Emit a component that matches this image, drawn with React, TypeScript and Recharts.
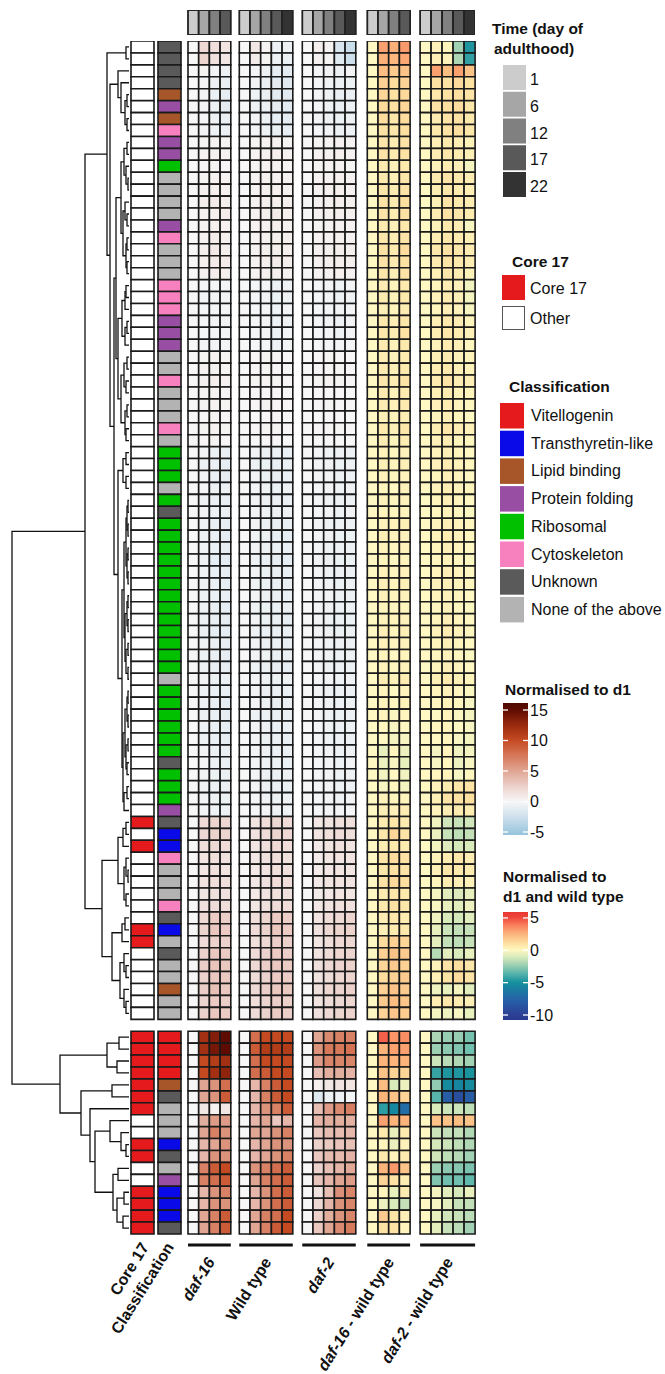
import React from "react";
import { BarChart, Bar, Cell, XAxis, YAxis, ScatterChart, Scatter } from "recharts";

const FONT = '"Liberation Sans", Arial, Helvetica, sans-serif';

// ---------- data ----------
const timeDays = [1, 6, 12, 17, 22];
const panelNames = ["daf-16", "Wild type", "daf-2", "daf-16 - wild type", "daf-2 - wild type"];
const panelDays = [
  [1, 6, 12, 17],
  [1, 6, 12, 17, 22],
  [1, 6, 12, 17, 22],
  [1, 6, 12, 17],
  [1, 6, 12, 17, 22],
];

const classNames: Record<string, string> = {
  V: "Vitellogenin",
  T: "Transthyretin-like",
  L: "Lipid binding",
  P: "Protein folding",
  R: "Ribosomal",
  C: "Cytoskeleton",
  U: "Unknown",
  N: "None of the above",
};
const classOrder = ["V", "T", "L", "P", "R", "C", "U", "N"];

// 1 = Core 17, 0 = other (rows 1-99, top to bottom)
const core17 = [
  0, 0, 0, 0, 0, 0, 0, 0, 0, 0,
  0, 0, 0, 0, 0, 0, 0, 0, 0, 0,
  0, 0, 0, 0, 0, 0, 0, 0, 0, 0,
  0, 0, 0, 0, 0, 0, 0, 0, 0, 0,
  0, 0, 0, 0, 0, 0, 0, 0, 0, 0,
  0, 0, 0, 0, 0, 0, 0, 0, 0, 0,
  0, 0, 0, 0, 0, 1, 0, 1, 0, 0,
  0, 0, 0, 0, 1, 1, 0, 0, 0, 0,
  0, 0, 1, 1, 1, 1, 1, 1, 1, 0,
  0, 1, 1, 0, 0, 1, 1, 1, 1,
];

const classification = [
  "U", "U", "U", "U", "L", "P", "L", "C", "P", "P",
  "R", "N", "N", "N", "N", "P", "C", "N", "N", "N",
  "C", "C", "C", "P", "P", "P", "N", "N", "C", "N",
  "N", "N", "C", "N", "R", "R", "R", "N", "R", "U",
  "R", "R", "R", "R", "R", "R", "R", "R", "R", "R",
  "R", "R", "R", "N", "R", "R", "R", "R", "R", "R",
  "U", "R", "R", "R", "P", "U", "T", "T", "C", "N",
  "N", "N", "C", "U", "T", "N", "U", "N", "N", "L",
  "N", "N", "V", "V", "V", "V", "L", "U", "N", "N",
  "N", "T", "U", "N", "P", "T", "T", "T", "U",
];

// normalised to d1 (days 1, 6, 12, 17)
const daf16Values = [
  [0, 2.0, 1.6, 1.2], [0, 2.2, 1.4, 1.0], [0, 0.2, -0.3, -0.6], [0, -0.2, -0.6, -0.9],
  [0, -0.3, -0.8, -1.0], [0, -0.4, -0.7, -1.1], [0, -0.2, -0.6, -0.9], [0, -0.3, -0.5, -0.8],
  [0, 0.2, 0.3, 0.2], [0, 0.3, 0.4, 0.3], [0, 0.1, 0.2, 0.1], [0, 0.2, 0.4, 0.3],
  [0, 0.3, 0.5, 0.4], [0, 0.5, 0.8, 0.6], [0, 0.4, 0.6, 0.7], [0, 0.3, 0.5, 0.4],
  [0, 0.4, 0.7, 0.5], [0, 0.5, 0.9, 0.6], [0, 0.5, 0.8, 0.7], [0, 0.4, 0.7, 0.5],
  [0, -0.1, -0.2, -0.3], [0, -0.2, -0.3, -0.4], [0, -0.1, -0.2, -0.2], [0, -0.2, -0.3, -0.4],
  [0, -0.1, -0.2, -0.3], [0, -0.2, -0.3, -0.3], [0, 0.2, 0.3, 0.2], [0, 0.3, 0.4, 0.2],
  [0, 0.3, 0.5, 0.3], [0, 0.2, 0.3, 0.1], [0, 0.2, 0.3, 0.2], [0, 0.1, 0.2, 0.1],
  [0, 0.2, 0.4, 0.2], [0, 0.1, 0.2, 0.1], [0, -0.4, -0.7, -0.9], [0, -0.5, -0.8, -1.0],
  [0, -0.4, -0.8, -1.0], [0, -0.3, -0.6, -0.7], [0, -0.5, -0.8, -0.9], [0, -0.4, -0.6, -0.8],
  [0, -0.5, -0.9, -1.0], [0, -0.6, -0.9, -1.1], [0, -0.5, -0.8, -1.0], [0, -0.6, -1.0, -1.1],
  [0, -0.5, -0.9, -1.0], [0, -0.6, -0.9, -1.0], [0, -0.5, -0.8, -0.9], [0, -0.6, -0.9, -1.0],
  [0, -0.5, -0.9, -1.1], [0, -0.6, -1.0, -1.0], [0, -0.5, -0.8, -0.9], [0, -0.5, -0.9, -1.0],
  [0, -0.6, -0.9, -1.1], [0, -0.4, -0.7, -0.8], [0, -0.5, -0.8, -0.9], [0, -0.5, -0.9, -1.0],
  [0, -0.6, -0.9, -1.0], [0, -0.5, -0.8, -1.0], [0, -0.5, -0.9, -1.0], [0, -0.4, -0.7, -0.9],
  [0, -0.3, -0.6, -0.8], [0, -0.4, -0.7, -0.8], [0, -0.4, -0.6, -0.8], [0, -0.3, -0.6, -0.7],
  [0, -0.3, -0.5, -0.5], [0, 1.8, 2.2, 2.0], [0, 2.0, 2.4, 2.2], [0, 1.6, 2.0, 1.8],
  [0, 1.2, 1.6, 1.4], [0, 1.0, 1.4, 1.2], [0, 1.3, 1.6, 1.5], [0, 1.1, 1.5, 1.4],
  [0, 1.4, 1.8, 1.6], [0, 2.0, 2.8, 2.6], [0, 2.2, 3.0, 2.8], [0, 1.8, 2.4, 2.4],
  [0, 2.4, 3.0, 2.8], [0, 2.6, 3.2, 3.0], [0, 2.4, 3.0, 3.0], [0, 2.6, 3.4, 3.0],
  [0, 2.2, 2.8, 2.6], [0, 2.4, 3.0, 2.8],
  [0, 12, 13.5, 15], [0, 12, 14, 15], [0, 10, 11, 12], [0, 10, 12, 13],
  [0, 5, 6, 8], [0, 5, 6, 9], [0, 1, 0.4, 1], [0, 4.5, 5.5, 5.5],
  [0, 5, 7, 6], [0, 4, 5, 6], [0, 4, 6, 6], [0, 7, 9, 10],
  [0, 7, 8, 9], [0, 4, 6, 7], [0, 4, 6, 6], [0, 5, 7, 9], [0, 5, 7, 9],
];

// normalised to d1 (days 1, 6, 12, 17, 22)
const wildTypeValues = [
  [0, 1.0, 0.3, -0.5, -0.6], [0, 0.8, 0.2, -0.6, -0.8], [0, -0.3, -0.6, -1.0, -1.2], [0, -0.4, -0.8, -1.2, -1.4],
  [0, -0.5, -0.9, -1.3, -1.4], [0, -0.5, -0.8, -1.2, -1.3], [0, -0.4, -0.7, -1.0, -1.2], [0, -0.3, -0.6, -0.9, -1.0],
  [0, 0.2, 0.3, 0.3, 0.2], [0, 0.3, 0.4, 0.5, 0.3], [0, 0.2, 0.3, 0.3, 0.2], [0, 0.3, 0.5, 0.4, 0.3],
  [0, 0.3, 0.5, 0.5, 0.4], [0, 0.4, 0.6, 0.6, 0.5], [0, 0.4, 0.6, 0.7, 0.5], [0, 0.3, 0.4, 0.5, 0.4],
  [0, 0.3, 0.5, 0.6, 0.5], [0, 0.4, 0.6, 0.6, 0.5], [0, 0.4, 0.6, 0.7, 0.6], [0, 0.3, 0.5, 0.5, 0.4],
  [0, -0.2, -0.3, -0.6, -0.5], [0, -0.2, -0.4, -0.7, -0.5], [0, -0.1, -0.3, -0.5, -0.4], [0, -0.2, -0.4, -0.6, -0.5],
  [0, -0.2, -0.3, -0.6, -0.4], [0, -0.1, -0.3, -0.5, -0.4], [0, 0.1, 0.2, 0.2, 0.1], [0, 0.1, 0.2, 0.1, 0.1],
  [0, 0.2, 0.3, 0.2, 0.1], [0, 0.1, 0.1, 0.1, 0.0], [0, 0.1, 0.2, 0.1, 0.1], [0, 0.0, 0.1, 0.1, 0.0],
  [0, 0.1, 0.2, 0.2, 0.1], [0, 0.0, 0.1, 0.1, 0.0], [0, -0.4, -0.6, -0.8, -0.8], [0, -0.5, -0.7, -0.9, -0.9],
  [0, -0.4, -0.7, -0.9, -0.8], [0, -0.3, -0.5, -0.7, -0.6], [0, -0.4, -0.6, -0.8, -0.8], [0, -0.3, -0.5, -0.6, -0.6],
  [0, -0.4, -0.7, -0.9, -0.9], [0, -0.5, -0.7, -0.9, -1.0], [0, -0.4, -0.6, -0.8, -0.9], [0, -0.5, -0.8, -1.0, -1.0],
  [0, -0.4, -0.7, -0.9, -0.9], [0, -0.5, -0.7, -0.9, -0.9], [0, -0.4, -0.6, -0.8, -0.8], [0, -0.5, -0.7, -0.9, -0.9],
  [0, -0.4, -0.7, -0.9, -1.0], [0, -0.5, -0.8, -0.9, -0.9], [0, -0.4, -0.6, -0.8, -0.8], [0, -0.4, -0.7, -0.9, -0.9],
  [0, -0.5, -0.7, -1.0, -1.0], [0, -0.3, -0.5, -0.7, -0.7], [0, -0.4, -0.6, -0.8, -0.8], [0, -0.4, -0.7, -0.9, -0.9],
  [0, -0.5, -0.7, -0.9, -0.9], [0, -0.4, -0.6, -0.9, -0.9], [0, -0.4, -0.7, -0.9, -0.9], [0, -0.3, -0.6, -0.8, -0.8],
  [0, -0.3, -0.5, -0.7, -0.7], [0, -0.3, -0.6, -0.7, -0.7], [0, -0.4, -0.6, -0.8, -0.7], [0, -0.3, -0.5, -0.7, -0.6],
  [0, -0.2, -0.4, -0.5, -0.5], [0, 1.2, 1.6, 2.0, 1.8], [0, 1.4, 1.8, 2.2, 2.0], [0, 1.2, 1.6, 1.9, 1.7],
  [0, 1.0, 1.4, 1.6, 1.5], [0, 0.9, 1.2, 1.5, 1.4], [0, 1.0, 1.4, 1.7, 1.6], [0, 0.9, 1.3, 1.5, 1.4],
  [0, 1.1, 1.5, 1.8, 1.7], [0, 1.6, 2.2, 2.8, 2.6], [0, 1.8, 2.4, 3.0, 2.8], [0, 1.5, 2.0, 2.6, 2.5],
  [0, 1.8, 2.4, 2.8, 2.6], [0, 2.0, 2.6, 3.0, 2.8], [0, 1.8, 2.4, 2.8, 2.7], [0, 2.0, 2.6, 3.0, 2.9],
  [0, 1.6, 2.2, 2.6, 2.5], [0, 1.8, 2.4, 2.8, 2.6],
  [0, 8, 10, 10, 10], [0, 9, 11, 11, 11], [0, 8, 10, 10, 10], [0, 8, 9, 10, 10],
  [0, 4, 7, 9, 10], [0, 4, 7, 9, 10], [0, 4, 6, 7, 9], [0, 4, 5, 3, 4],
  [0, 5, 5, 6, 7], [0, 4, 5, 6, 6], [0, 4, 5, 6, 7], [0, 6, 7, 8, 9],
  [0, 5, 7, 8, 9], [0, 4, 6, 8, 9], [0, 4, 6, 8, 9], [0, 5, 7, 8, 10], [0, 5, 7, 9, 10],
];

const daf2Values = [
  [0, 0.6, 0.3, -1.8, -2.8], [0, 0.4, 0.2, -1.5, -2.6], [0, -0.2, -0.4, -0.6, -0.4], [0, -0.3, -0.5, -0.8, -0.7],
  [0, -0.3, -0.6, -0.9, -0.8], [0, -0.2, -0.5, -0.8, -0.7], [0, -0.3, -0.5, -0.7, -0.6], [0, -0.2, -0.4, -0.6, -0.5],
  [0, 0.2, 0.3, 0.4, 0.3], [0, 0.3, 0.4, 0.5, 0.4], [0, 0.2, 0.3, 0.3, 0.2], [0, 0.3, 0.4, 0.5, 0.4],
  [0, 0.3, 0.5, 0.5, 0.4], [0, 0.4, 0.5, 0.6, 0.5], [0, 0.4, 0.5, 0.6, 0.5], [0, 0.2, 0.3, 0.4, 0.3],
  [0, 0.3, 0.4, 0.5, 0.4], [0, 0.4, 0.5, 0.6, 0.5], [0, 0.4, 0.5, 0.6, 0.5], [0, 0.3, 0.4, 0.5, 0.4],
  [0, -0.2, -0.3, -0.5, -0.4], [0, -0.2, -0.4, -0.6, -0.5], [0, -0.1, -0.3, -0.4, -0.3], [0, -0.2, -0.3, -0.5, -0.4],
  [0, -0.2, -0.3, -0.5, -0.4], [0, -0.1, -0.2, -0.4, -0.3], [0, 0.1, 0.2, 0.1, 0.1], [0, 0.1, 0.2, 0.2, 0.1],
  [0, 0.2, 0.3, 0.2, 0.1], [0, 0.1, 0.1, 0.1, 0.0], [0, 0.1, 0.2, 0.1, 0.1], [0, 0.0, 0.1, 0.1, 0.0],
  [0, 0.1, 0.2, 0.2, 0.1], [0, 0.0, 0.1, 0.0, 0.0], [0, -0.3, -0.5, -0.6, -0.6], [0, -0.3, -0.5, -0.7, -0.6],
  [0, -0.3, -0.4, -0.6, -0.5], [0, -0.2, -0.4, -0.5, -0.5], [0, -0.3, -0.5, -0.6, -0.6], [0, -0.2, -0.3, -0.5, -0.4],
  [0, -0.3, -0.5, -0.6, -0.6], [0, -0.3, -0.6, -0.7, -0.7], [0, -0.3, -0.5, -0.6, -0.6], [0, -0.4, -0.6, -0.7, -0.7],
  [0, -0.3, -0.5, -0.6, -0.6], [0, -0.3, -0.5, -0.7, -0.6], [0, -0.3, -0.4, -0.6, -0.6], [0, -0.3, -0.5, -0.6, -0.6],
  [0, -0.3, -0.5, -0.7, -0.7], [0, -0.4, -0.6, -0.7, -0.6], [0, -0.3, -0.5, -0.6, -0.6], [0, -0.3, -0.5, -0.6, -0.6],
  [0, -0.3, -0.6, -0.7, -0.7], [0, -0.2, -0.4, -0.5, -0.5], [0, -0.3, -0.5, -0.6, -0.6], [0, -0.3, -0.5, -0.6, -0.6],
  [0, -0.3, -0.5, -0.7, -0.6], [0, -0.3, -0.5, -0.6, -0.6], [0, -0.3, -0.5, -0.6, -0.6], [0, -0.2, -0.4, -0.5, -0.5],
  [0, -0.2, -0.4, -0.5, -0.4], [0, -0.2, -0.4, -0.5, -0.5], [0, -0.3, -0.4, -0.5, -0.5], [0, -0.2, -0.4, -0.5, -0.4],
  [0, -0.2, -0.3, -0.3, -0.2], [0, 1.0, 1.3, 1.5, 1.5], [0, 1.2, 1.5, 1.7, 1.6], [0, 0.9, 1.2, 1.4, 1.3],
  [0, 0.8, 1.1, 1.2, 1.2], [0, 0.7, 1.0, 1.1, 1.1], [0, 0.9, 1.2, 1.3, 1.3], [0, 0.8, 1.0, 1.2, 1.1],
  [0, 1.0, 1.3, 1.4, 1.4], [0, 1.2, 1.8, 2.0, 2.2], [0, 1.4, 2.0, 2.2, 2.3], [0, 1.1, 1.6, 1.9, 2.0],
  [0, 1.3, 1.8, 2.1, 2.2], [0, 1.5, 2.0, 2.3, 2.4], [0, 1.3, 1.8, 2.1, 2.2], [0, 1.5, 2.1, 2.3, 2.5],
  [0, 1.2, 1.7, 2.0, 2.1], [0, 1.4, 1.9, 2.2, 2.3],
  [0, 5.0, 6.5, 7.0, 7.0], [0, 6.0, 7.5, 7.5, 7.8], [0, 5.5, 6.8, 6.8, 6.8], [0, 3.5, 4.5, 4.5, 4.2],
  [0, 0.5, 1.0, 1.3, 1.1], [0, -1.5, -0.7, -0.5, -0.3], [0, 3.5, 5.5, 6.5, 7.2], [0, 4.0, 4.5, 4.5, 4.3],
  [0, 3.0, 3.6, 3.6, 3.9], [0, 2.5, 2.9, 3.2, 3.4], [0, 3.0, 3.7, 3.8, 4.2], [0, 2.4, 3.5, 4.1, 4.8],
  [0, 3.1, 4.0, 5.0, 5.5], [0, 1.3, 3.5, 6.2, 6.8], [0, 2.0, 4.0, 6.0, 6.8], [0, 2.5, 4.5, 6.0, 6.8],
  [0, 3.0, 5.0, 6.5, 7.4],
];

// normalised to d1 and wild type
const daf16VsWtValues = [
  [0, 3.0, 2.6, 3.2], [0, 2.6, 2.4, 2.8], [0, 2.2, 1.8, 2.0], [0, 1.6, 1.2, 1.5],
  [0, 1.4, 1.0, 1.3], [0, 1.3, 1.0, 1.4], [0, 1.2, 0.8, 1.2], [0, 1.0, 0.8, 1.1],
  [0, 0.8, 0.5, 0.9], [0, 0.9, 0.6, 1.0], [0, 0.6, 0.3, 0.7], [0, 0.7, 0.4, 0.8],
  [0, 0.8, 0.5, 0.9], [0, 1.0, 0.6, 1.1], [0, 0.9, 0.5, 1.0], [0, 0.6, 0.3, 0.7],
  [0, 0.8, 0.5, 0.9], [0, 1.0, 0.6, 1.2], [0, 0.9, 0.6, 1.0], [0, 0.8, 0.4, 0.9],
  [0, 0.5, 0.2, 0.6], [0, 0.6, 0.3, 0.7], [0, 0.4, 0.2, 0.5], [0, 0.7, 0.4, 0.8],
  [0, 0.8, 0.5, 1.0], [0, 0.6, 0.3, 0.7], [0, 0.5, 0.3, 0.6], [0, 0.6, 0.4, 0.7],
  [0, 0.8, 0.5, 0.9], [0, 0.6, 0.3, 0.6], [0, 0.5, 0.3, 0.6], [0, 0.4, 0.2, 0.5],
  [0, 0.7, 0.4, 0.8], [0, 0.5, 0.2, 0.5], [0, 0.3, 0.1, 0.3], [0, 0.4, 0.2, 0.4],
  [0, 0.3, 0.1, 0.2], [0, 0.2, 0.0, 0.3], [0, 0.3, 0.1, 0.3], [0, 0.2, 0.1, 0.2],
  [0, 0.3, 0.2, 0.4], [0, 0.4, 0.2, 0.3], [0, 0.3, 0.1, 0.3], [0, 0.2, 0.0, 0.2],
  [0, 0.3, 0.1, 0.3], [0, 0.4, 0.2, 0.4], [0, 0.3, 0.1, 0.3], [0, 0.2, 0.1, 0.2],
  [0, 0.3, 0.2, 0.3], [0, 0.4, 0.2, 0.4], [0, 0.3, 0.1, 0.3], [0, 0.2, 0.0, 0.2],
  [0, 0.3, 0.1, 0.3], [0, 0.5, 0.3, 0.5], [0, 0.2, 0.0, 0.2], [0, 0.3, 0.1, 0.3],
  [0, 0.2, -0.1, 0.1], [0, 0.1, -0.2, 0.0], [0, 0.0, -0.3, -0.2], [0, -0.6, 0.1, -0.5],
  [0, -0.5, -0.2, -0.6], [0, -0.3, 0.0, -0.4], [0, -0.2, 0.1, -0.3], [0, 0.3, 0.2, 0.2],
  [0, 0.4, 0.3, 0.5], [0, 0.6, 0.8, 0.6], [0, 0.8, 1.4, 0.9], [0, 0.5, 0.7, 0.6],
  [0, 0.9, 1.2, 1.0], [0, 0.8, 1.0, 0.9], [0, 1.0, 1.3, 1.1], [0, 0.6, 0.8, 0.7],
  [0, 0.7, 1.0, 0.8], [0, 0.5, 0.8, 0.6], [0, 0.4, 0.6, 0.7], [0, 1.2, 1.6, 1.4],
  [0, 1.6, 2.0, 1.8], [0, 1.4, 1.8, 1.6], [0, 1.2, 1.6, 1.8], [0, 1.6, 2.0, 1.8],
  [0, 1.8, 2.2, 1.9], [0, 1.5, 1.9, 1.7],
  [0, 4.5, 3.3, 3.5], [0, 2.5, 3.0, 3.0], [0, 2.5, 2.5, 2.5], [0, 2.0, 1.5, 1.5],
  [0, 2.2, -1.0, -0.5], [0, 2.5, 2.0, 1.5], [0, -4.5, -5.5, -7.0], [0, 3.0, 2.5, 2.5],
  [0, 0.7, -0.6, 0.6], [0, 0.2, -0.5, 0.3], [0, 0.7, 0.2, 0.6], [0, 2.5, 3.2, 2.0],
  [0, 1.5, 1.0, 0.5], [0, 0.2, -0.6, 0.6], [0, -0.5, -1.0, -1.5], [0, 1.8, 0.9, 0.4],
  [0, 1.0, 1.0, 0.2],
];

const daf2VsWtValues = [
  [0, 0.3, 0.2, -2.2, -4.8], [0, 0.4, 0.3, -2.0, -4.4], [0, 3.0, 2.2, 3.0, 2.0], [0, 1.0, 1.0, 1.3, 1.0],
  [0, 0.8, 1.0, 1.1, 0.9], [0, 0.9, 1.1, 1.2, 0.8], [0, 0.6, 0.9, 1.0, 0.7], [0, 0.7, 1.0, 1.1, 0.8],
  [0, 0.4, 0.7, 0.5, 0.3], [0, 0.5, 0.8, 0.6, 0.4], [0, 0.3, 0.6, 0.4, -0.3], [0, 0.6, 0.9, 0.7, 0.5],
  [0, 0.5, 0.8, 0.6, 0.4], [0, 0.4, 0.9, 0.7, 0.5], [0, 0.6, 1.0, 0.8, 0.6], [0, 0.3, 0.7, 0.5, -0.2],
  [0, 0.5, 0.8, 0.6, 0.4], [0, 0.7, 1.0, 0.8, 0.5], [0, 0.6, 0.9, 0.7, 0.5], [0, 0.4, 0.8, 0.6, 0.3],
  [0, 0.2, 0.5, 0.3, -0.4], [0, 0.3, 0.6, 0.4, -0.3], [0, 0.2, 0.4, 0.3, -0.2], [0, 0.4, 0.7, 0.5, 0.2],
  [0, 0.5, 0.8, 0.6, 0.3], [0, 0.3, 0.6, 0.4, 0.1], [0, 0.4, 0.6, 0.3, 0.2], [0, 0.5, 0.7, 0.4, 0.3],
  [0, 0.6, 0.9, 0.5, 0.4], [0, 0.4, 0.6, 0.3, 0.2], [0, 0.3, 0.5, 0.2, 0.1], [0, 0.2, 0.4, 0.2, 0.0],
  [0, 0.5, 0.8, 0.5, 0.3], [0, 0.3, 0.5, 0.2, 0.1], [0, 0.2, 0.4, 0.2, 0.0], [0, 0.3, 0.5, 0.3, 0.1],
  [0, 0.2, 0.4, 0.2, 0.0], [0, 0.3, 0.5, 0.3, 0.2], [0, 0.2, 0.4, 0.2, 0.0], [0, 0.1, 0.3, 0.1, -0.1],
  [0, 0.2, 0.4, 0.2, 0.1], [0, 0.3, 0.5, 0.3, 0.1], [0, 0.2, 0.4, 0.2, 0.0], [0, 0.1, 0.3, 0.1, -0.1],
  [0, 0.2, 0.4, 0.2, 0.0], [0, 0.3, 0.4, 0.2, 0.1], [0, 0.2, 0.3, 0.2, 0.0], [0, 0.1, 0.3, 0.1, -0.1],
  [0, 0.2, 0.4, 0.2, 0.0], [0, 0.3, 0.5, 0.3, 0.1], [0, 0.2, 0.4, 0.2, 0.0], [0, 0.1, 0.3, 0.1, -0.1],
  [0, 0.2, 0.4, 0.2, 0.0], [0, 0.4, 0.6, 0.4, 0.2], [0, 0.2, 0.3, 0.1, -0.1], [0, 0.1, 0.3, 0.1, -0.2],
  [0, 0.0, 0.2, -0.1, -0.3], [0, 0.1, 0.2, 0.0, -0.2], [0, 0.0, 0.2, -0.2, -0.3], [0, -0.3, 0.2, -0.4, -0.3],
  [0, -0.2, 0.1, -0.5, -0.2], [0, 0.1, 0.2, -0.2, 0.1], [0, 0.3, 0.6, 0.8, 0.9], [0, 0.4, 0.9, 1.0, 1.1],
  [0, 0.2, 0.5, 0.6, 0.5], [0, -0.4, -1.2, -1.4, -1.2], [0, -0.5, -1.4, -1.6, -1.5], [0, -0.3, -0.9, -1.1, -1.0],
  [0, 0.3, 0.6, 0.8, 0.5], [0, 0.4, 0.8, 0.7, 0.6], [0, 0.2, 0.5, 0.4, 0.3], [0, -0.3, -0.8, -0.9, -0.6],
  [0, -0.2, -0.6, -0.8, -0.5], [0, -0.4, -1.0, -1.1, -0.8], [0, -0.6, -1.3, -1.5, -1.4], [0, -0.7, -1.5, -1.6, -1.4],
  [0, -1.8, -0.8, -1.0, -0.6], [0, 0.3, 0.9, 1.1, 0.8], [0, 0.4, 1.0, 1.2, 0.9], [0, -0.5, -0.6, -0.3, -0.8],
  [0, 0.5, 0.8, 0.6, 0.4], [0, -0.3, -0.5, -0.2, -0.6],
  [0, -2.0, -2.4, -2.4, -3.0], [0, -2.3, -2.6, -2.8, -3.1], [0, -1.3, -1.7, -1.9, -2.2], [0, -4.3, -4.8, -4.8, -4.9],
  [0, -2.5, -5.3, -5.6, -5.3], [0, -3.6, -8.0, -9.0, -8.0], [0, -1.0, -1.3, -1.3, -1.6], [0, 2.0, 2.0, 2.2, 2.0],
  [0, -1.3, -1.5, -1.5, -1.9], [0, -1.1, -1.3, -1.6, -1.9], [0, -1.2, -1.6, -1.8, -2.2], [0, -2.3, -2.6, -2.7, -2.9],
  [0, -2.8, -3.1, -3.1, -3.4], [0, -0.3, -0.8, -1.1, -0.6], [0, -0.2, -0.7, -1.4, -1.5], [0, -0.6, -1.2, -1.4, -1.7],
  [0, -0.7, -1.4, -1.7, -2.2],
];

const panelValues = [daf16Values, wildTypeValues, daf2Values, daf16VsWtValues, daf2VsWtValues];

// row dendrogram: [left, right, height]; leaves are row numbers 1-99
const clusterA1 = [1, 2, 3];
const clusterA2a = [3, [4, [[5, 6, 2], [7, 8, 2], 4], 8], 11];
const clusterC1a = [[[9, 10, 2], [11, [12, 13, 1], 3], 5], [[14, [15, 16, 2], 4], [[17, 18, 2], [19, 20, 2], 3], 6], 8];
const clusterC1b = [[[21, 22, 3], 23, 4], [[24, 25, 2], 26, 4], 7];
const clusterC1c = [[[27, 28, 2], [29, 30, 3], 5], [[31, 32, 2], [33, 34, 3], 4], 8];
const clusterC2a = [[35, 36, 3], [37, 38, 3], 6];
const riboA = [[[[39, 40, 1], [41, 42, 1], 2], [[43, 44, 1], [45, 46, 1], 2], 3], [[[47, 48, 1], [49, 50, 1], 2], [[51, 52, 1], [53, 54, 1], 3], 4], 5];
const riboB = [[[[55, 56, 1], [57, 58, 1], 2], [[59, 60, 1], [61, 62, 2], 3], 4], [[63, 64, 2], 65, 5], 6];
const clusterB1 = [[[66, 67, 3], 68, 6], [[69, [70, 71, 1], 3], [72, 73, 3], 5], 11];
const clusterB2 = [[[74, 75, 4], 76, 7], [[77, [78, 79, 3], 5], [80, [81, 82, 3], 5], 9], 17];
const clusterTop = [
  [clusterA1, [clusterA2a, [[clusterC1a, [clusterC1b, clusterC1c, 11], 13], [clusterC2a, [riboA, riboB, 7], 11], 15], 19], 22],
  [clusterB1, clusterB2, 27],
  44,
];
const clusterBottom = [
  [[83, 84, 10], [85, 86, 12], 22],
  [[87, 88, 17], [89, [[90, [91, [92, 93, 3], 8], 19], [[94, 95, 11], [[96, 97, 5], [98, 99, 6], 12], 16], 34], 39], 48],
  69,
];
const rowTree = [clusterTop, clusterBottom, 117];

// ---------- colours ----------
const classColors: Record<string, string> = {
  V: "#e41a1c", T: "#0a0ae8", L: "#a65628", P: "#984ea3",
  R: "#00c000", C: "#f781bf", U: "#5a5a5a", N: "#b3b3b3",
};
const timeGrays = ["#cccccc", "#a6a6a6", "#808080", "#595959", "#333333"];
const d1Stops: [number, string][] = [
  [-6, "#8cbcd6"], [-5, "#9fc8df"], [-2.5, "#cfe0ec"], [0, "#f7f7f7"], [2.5, "#ecd0ca"],
  [5, "#e0a593"], [7.5, "#d6785a"], [10, "#c54a21"], [12.5, "#9a2a0e"], [15, "#5e0c02"], [16.5, "#4a0800"],
];
const diffStops: [number, string][] = [
  [-11, "#283a8e"], [-10, "#2c3f95"], [-7.5, "#2564a8"], [-5, "#14909d"], [-3.5, "#5cb6ac"],
  [-2, "#acd6b4"], [-1, "#d9eabb"], [0, "#fff8c2"], [1, "#fde2a3"], [2.5, "#fcb47b"],
  [4, "#f87a58"], [5, "#f0473c"], [6, "#e53530"],
];

function hexRgb(h: string) {
  return [1, 3, 5].map((i) => parseInt(h.slice(i, i + 2), 16));
}
function rampColor(stops: [number, string][], v: number) {
  if (v <= stops[0][0]) return stops[0][1];
  for (let i = 1; i < stops.length; i++) {
    if (v <= stops[i][0]) {
      const [v0, c0] = stops[i - 1];
      const [v1, c1] = stops[i];
      const t = (v - v0) / (v1 - v0);
      const a = hexRgb(c0);
      const b = hexRgb(c1);
      const m = a.map((x, k) => Math.round(x + (b[k] - x) * t));
      return `rgb(${m[0]},${m[1]},${m[2]})`;
    }
  }
  return stops[stops.length - 1][1];
}

// ---------- layout ----------
const TOP_ROWS = 82;
const SLOTS = 100;
const ROW_H = 11.93;
const HEAT_H = SLOTS * ROW_H;
const HEAT_LEFT = 131;
const HEAT_TOP = 41;
const AXIS_H = 140;
const GRID = "#1a1a1a";
const LABEL_SIZE = 16;

type Seg = { kind: "core" | "class" | "gap" | "cell"; w: number; panel?: number; col?: number };
const panelGaps = [8.5, 9.5, 11.5, 10];
const segments: Seg[] = [
  { kind: "core", w: 23 },
  { kind: "gap", w: 4 },
  { kind: "class", w: 23 },
  { kind: "gap", w: 7 },
];
panelDays.forEach((days, p) => {
  if (p > 0) segments.push({ kind: "gap", w: panelGaps[p - 1] });
  days.forEach((_, c) => segments.push({ kind: "cell", w: p === 4 ? 11 : 10.7, panel: p, col: c }));
});
const TOTAL_W = segments.reduce((s, g) => s + g.w, 0);

const slotRow = (slot: number) => (slot < TOP_ROWS ? slot : slot === TOP_ROWS ? -1 : slot - 1);
const rowSlot = (row: number) => (row < TOP_ROWS ? row : row + 1);

const heatTable = Array.from({ length: SLOTS }, (_, slot) => {
  const entry: Record<string, number | string> = { slot: `s${slot}` };
  segments.forEach((g, j) => (entry[`k${j}`] = g.w));
  return entry;
});
const headerTable = [heatTable[0]];

// tick centres of the labelled columns
const labelTicks: { center: number; parts: { t: string; i: boolean }[]; underline: number; dx: number; y: number }[] = [];
{
  let x = 0;
  const groups: Record<string, { start: number; end: number }> = {};
  segments.forEach((g) => {
    const key = g.kind === "cell" ? `p${g.panel}` : g.kind;
    if (g.kind !== "gap") {
      if (!groups[key]) groups[key] = { start: x, end: x + g.w };
      groups[key].end = x + g.w;
    }
    x += g.w;
  });
  const mk = (name: string) => {
    if (name.startsWith("daf")) {
      const [a, ...rest] = name.split(" ");
      return [{ t: a, i: true }, ...(rest.length ? [{ t: " " + rest.join(" "), i: false }] : [])];
    }
    return [{ t: name, i: false }];
  };
  const c = groups.core, k = groups.class;
  labelTicks.push({ center: (c.start + c.end) / 2, parts: mk("Core 17"), underline: 0, dx: 7, y: 1247 });
  labelTicks.push({ center: (k.start + k.end) / 2, parts: mk("Classification"), underline: 0, dx: 5, y: 1247 });
  panelNames.forEach((n, p) => {
    const g = groups[`p${p}`];
    labelTicks.push({ center: (g.start + g.end) / 2, parts: mk(n), underline: g.end - g.start, dx: 6, y: 1262 });
  });
}

function LabelTick(props: any) {
  const { x, payload } = props;
  const spec = labelTicks.find((s) => Math.abs(s.center - payload.value) < 0.01);
  if (!spec) return null;
  const ly = spec.y - HEAT_TOP;
  return (
    <g>
      {spec.underline > 0 && (
        <line x1={x - spec.underline / 2} x2={x + spec.underline / 2} y1={1245 - HEAT_TOP} y2={1245 - HEAT_TOP} stroke="#111" strokeWidth={3} />
      )}
      <text
        transform={`translate(${x + spec.dx},${ly}) rotate(-58)`}
        textAnchor="end"
        fontSize={LABEL_SIZE}
        fontWeight="bold"
        fontFamily={FONT}
        fill="#111"
      >
        {spec.parts.map((p, i) => (
          <tspan key={i} fontStyle={p.i ? "italic" : "normal"}>{p.t}</tspan>
        ))}
      </text>
    </g>
  );
}

function cellFill(g: Seg, row: number) {
  if (g.kind === "core") return core17[row] ? "#e41a1c" : "#ffffff";
  if (g.kind === "class") return classColors[classification[row]];
  const v = panelValues[g.panel!][row][g.col!];
  return g.panel! < 3 ? rampColor(d1Stops, v) : rampColor(diffStops, v);
}

// dendrogram segments
type Pt = { x: number; y: number };
const treeSegs: Pt[][] = [];
function layoutTree(node: any): { y: number; h: number } {
  if (typeof node === "number") return { y: rowSlot(node - 1) + 0.5, h: 0 };
  const a = layoutTree(node[0]);
  const b = layoutTree(node[1]);
  const h = node[2];
  treeSegs.push([
    { x: a.h, y: a.y },
    { x: h, y: a.y },
    { x: h, y: b.y },
    { x: b.h, y: b.y },
  ]);
  return { y: (a.y + b.y) / 2, h };
}
layoutTree(rowTree);

const noShape = () => <g />;

function Dendrogram() {
  return (
    <ScatterChart width={121} height={HEAT_H} margin={{ top: 0, right: 0, bottom: 0, left: 0 }}>
      <XAxis type="number" dataKey="x" domain={[0, 121]} reversed hide />
      <YAxis type="number" dataKey="y" domain={[0, SLOTS]} reversed hide />
      {treeSegs.map((s, i) => (
        <Scatter
          key={i}
          data={s}
          fill="#111"
          line={{ stroke: "#111", strokeWidth: 1.3 }}
          shape={noShape}
          isAnimationActive={false}
        />
      ))}
    </ScatterChart>
  );
}

function Heatmap() {
  return (
    <BarChart
      width={HEAT_LEFT + TOTAL_W + 4}
      height={HEAT_H + AXIS_H}
      data={heatTable}
      layout="vertical"
      barCategoryGap={0}
      barGap={0}
      margin={{ top: 0, right: 4, bottom: 0, left: HEAT_LEFT }}
    >
      <XAxis
        type="number"
        domain={[0, TOTAL_W]}
        ticks={labelTicks.map((t) => t.center)}
        interval={0}
        height={AXIS_H}
        axisLine={false}
        tickLine={false}
        tick={<LabelTick />}
      />
      <YAxis type="category" dataKey="slot" hide />
      {segments.map((g, j) => (
        <Bar key={j} dataKey={`k${j}`} stackId="s" isAnimationActive={false} fill="none">
          {heatTable.map((_, slot) => {
            const row = slotRow(slot);
            if (g.kind === "gap" || row < 0) return <Cell key={slot} fill="none" stroke="none" />;
            return <Cell key={slot} fill={cellFill(g, row)} stroke={GRID} strokeWidth={1.6} />;
          })}
        </Bar>
      ))}
    </BarChart>
  );
}

function TimeHeader() {
  return (
    <BarChart
      width={TOTAL_W}
      height={25}
      data={headerTable}
      layout="vertical"
      barCategoryGap={0}
      barGap={0}
      margin={{ top: 0, right: 0, bottom: 0, left: 0 }}
    >
      <XAxis type="number" domain={[0, TOTAL_W]} hide />
      <YAxis type="category" dataKey="slot" hide />
      {segments.map((g, j) => (
        <Bar key={j} dataKey={`k${j}`} stackId="s" isAnimationActive={false} fill="none">
          {headerTable.map((_, i) =>
            g.kind === "cell" ? (
              <Cell key={i} fill={timeGrays[timeDays.indexOf(panelDays[g.panel!][g.col!])]} stroke="#222" strokeWidth={1.8} />
            ) : (
              <Cell key={i} fill="none" stroke="none" />
            )
          )}
        </Bar>
      ))}
    </BarChart>
  );
}

function ColorBar({ id, stops, top, bottom, vTop, vBottom, ticks, tickY }: any) {
  const n = 40;
  return (
    <g>
      <defs>
        <linearGradient id={id} x1="0" y1="0" x2="0" y2="1">
          {Array.from({ length: n + 1 }, (_, i) => {
            const v = vTop + ((vBottom - vTop) * i) / n;
            return <stop key={i} offset={`${(i / n) * 100}%`} stopColor={rampColor(stops, v)} />;
          })}
        </linearGradient>
      </defs>
      <rect x={503} y={top} width={25} height={bottom - top} fill={`url(#${id})`} />
      {ticks.map((t: number) => {
        const y = tickY(t);
        return (
          <g key={t}>
            <line x1={503} x2={508} y1={y} y2={y} stroke="#fff" strokeWidth={1.3} />
            <line x1={523} x2={528} y1={y} y2={y} stroke="#fff" strokeWidth={1.3} />
            <text x={530} y={y + 5.5} fontSize={16} fill="#111">{t}</text>
          </g>
        );
      })}
    </g>
  );
}

function Legends() {
  const title = { fontSize: 15.5, fontWeight: "bold" as const, fill: "#111" };
  const label = { fontSize: 16, fill: "#111" };
  const d1Y = (v: number) => 801.5 - v * 6.1;
  const dfY = (v: number) => 950.3 - v * 6.47;
  return (
    <svg width={665} height={1374} style={{ position: "absolute", left: 0, top: 0, pointerEvents: "none" }} fontFamily={FONT}>
      <text x={492} y={34} {...title}>Time (day of</text>
      <text x={494} y={54} {...title}>adulthood)</text>
      {timeDays.map((d, i) => (
        <g key={d}>
          <rect x={503} y={65 + i * 26.75} width={23} height={25} fill={timeGrays[i]} />
          <text x={530} y={85 + i * 26.75} {...label}>{d}</text>
        </g>
      ))}

      <text x={512} y={267} {...title}>Core 17</text>
      <rect x={502} y={275} width={23} height={25} fill="#e41a1c" />
      <text x={530} y={294} {...label}>Core 17</text>
      <rect x={502.5} y={306.5} width={22} height={23} fill="#fff" stroke="#555" strokeWidth={1} />
      <text x={530} y={324} {...label}>Other</text>

      <text x={509} y={392} {...title}>Classification</text>
      {classOrder.map((c, i) => (
        <g key={c}>
          <rect x={500} y={403 + i * 27.7} width={24} height={25.5} fill={classColors[c]} />
          <text x={531} y={421 + i * 27.7} {...label}>{classNames[c]}</text>
        </g>
      ))}

      <text x={505} y={695} {...title}>Normalised to d1</text>
      <ColorBar id="gD1" stops={d1Stops} top={703} bottom={835} vTop={16.1} vBottom={-5.5} ticks={[15, 10, 5, 0, -5]} tickY={d1Y} />

      <text x={503} y={882} {...title}>Normalised to</text>
      <text x={503} y={902} {...title}>d1 and wild type</text>
      <ColorBar id="gDiff" stops={diffStops} top={912} bottom={1020} vTop={5.9} vBottom={-10.8} ticks={[5, 0, -5, -10]} tickY={dfY} />
    </svg>
  );
}

export default function App() {
  return (
    <div
      style={{
        position: "absolute",
        left: 0,
        top: 0,
        width: 665,
        height: 1374,
        overflow: "hidden",
        background: "#fff",
        fontFamily: FONT,
      }}
    >
      <div style={{ position: "absolute", left: 8, top: HEAT_TOP }}>
        <Dendrogram />
      </div>
      <div style={{ position: "absolute", left: HEAT_LEFT, top: 10 }}>
        <TimeHeader />
      </div>
      <div style={{ position: "absolute", left: 0, top: HEAT_TOP }}>
        <Heatmap />
      </div>
      <Legends />
    </div>
  );
}
